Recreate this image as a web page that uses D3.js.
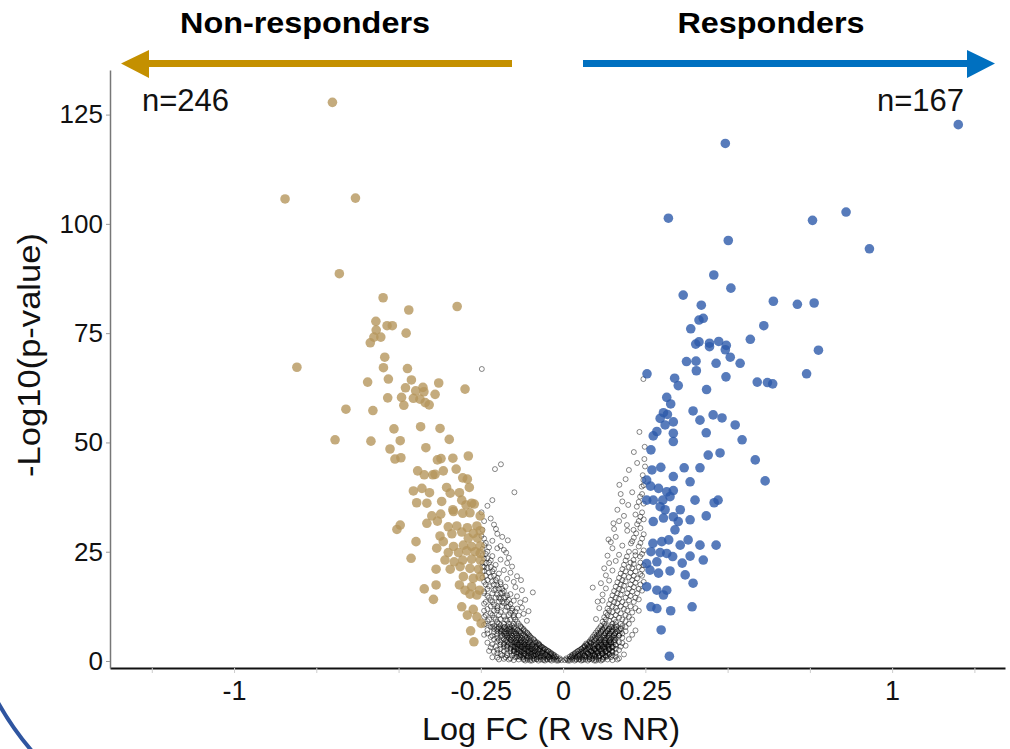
<!DOCTYPE html>
<html>
<head>
<meta charset="utf-8">
<script src="https://cdn.jsdelivr.net/npm/d3@7"></script>
<style>
  body { margin: 0; background: #fff; }
  svg { display: block; }
  text { font-family: "Liberation Sans", Arial, sans-serif; }
</style>
</head>
<body>
<svg id="chart" width="1010" height="749"></svg>
<script>
// non significant genes, [logFC, -log10 p]
const greyLeft = [
  [-0.005,0.2],[-0.02,0.1],[-0.04,0.3],[-0.06,0.2],[-0.08,0.4],[-0.1,0.1],[-0.12,0.3],[-0.15,0.2],[-0.18,0.5],
  [-0.01,0.6],[-0.03,0.7],[-0.05,0.5],[-0.07,0.8],[-0.09,0.6],[-0.11,0.7],[-0.13,0.9],[-0.16,0.6],[-0.2,0.8],
  [-0.02,1.0],[-0.035,1.1],[-0.045,0.9],[-0.06,1.2],[-0.075,1.0],[-0.09,1.3],[-0.105,1.1],[-0.12,1.2],[-0.14,1.0],[-0.17,1.3],
  [-0.03,1.5],[-0.04,1.6],[-0.055,1.4],[-0.07,1.7],[-0.085,1.5],[-0.1,1.8],[-0.115,1.6],[-0.13,1.5],[-0.15,1.7],[-0.19,1.6],
  [-0.04,2.0],[-0.05,2.1],[-0.065,1.9],[-0.08,2.2],[-0.095,2.0],[-0.11,2.3],[-0.125,2.1],[-0.14,2.0],[-0.16,2.2],[-0.21,2.1],
  [-0.05,2.5],[-0.06,2.6],[-0.075,2.4],[-0.09,2.7],[-0.105,2.5],[-0.12,2.8],[-0.135,2.6],[-0.15,2.5],[-0.17,2.7],[-0.2,2.6],
  [-0.06,3.0],[-0.07,3.1],[-0.085,2.9],[-0.1,3.2],[-0.115,3.0],[-0.13,3.3],[-0.145,3.1],[-0.16,3.0],[-0.18,3.2],[-0.22,3.1],
  [-0.07,3.5],[-0.08,3.6],[-0.095,3.4],[-0.11,3.7],[-0.125,3.5],[-0.14,3.8],[-0.155,3.6],[-0.17,3.5],[-0.19,3.7],
  [-0.075,4.0],[-0.09,4.1],[-0.105,3.9],[-0.12,4.2],[-0.135,4.0],[-0.15,4.3],[-0.165,4.1],[-0.18,4.0],[-0.23,4.2],
  [-0.085,4.5],[-0.1,4.6],[-0.115,4.4],[-0.13,4.7],[-0.145,4.5],[-0.16,4.8],[-0.175,4.6],[-0.2,4.5],
  [-0.09,5.0],[-0.105,5.1],[-0.12,4.9],[-0.135,5.2],[-0.15,5.0],[-0.165,5.3],[-0.18,5.1],[-0.21,5.0],
  [-0.1,5.5],[-0.115,5.6],[-0.13,5.4],[-0.145,5.7],[-0.16,5.5],[-0.175,5.8],[-0.19,5.6],[-0.22,5.5],
  [-0.105,6.0],[-0.12,6.1],[-0.135,5.9],[-0.15,6.2],[-0.165,6.0],[-0.18,6.3],[-0.2,6.1],[-0.24,6.0],
  [-0.11,6.5],[-0.13,6.6],[-0.145,6.4],[-0.16,6.7],[-0.175,6.5],[-0.19,6.8],[-0.21,6.6],
  [-0.12,7.0],[-0.14,7.1],[-0.155,6.9],[-0.17,7.2],[-0.185,7.0],[-0.2,7.3],[-0.23,7.1],
  [-0.125,7.5],[-0.15,7.6],[-0.165,7.4],[-0.18,7.7],[-0.195,7.5],[-0.215,7.8],
  [-0.13,8.0],[-0.155,8.1],[-0.17,7.9],[-0.19,8.2],[-0.21,8.0],[-0.24,8.3],
  [-0.14,9.0],[-0.17,9.2],[-0.2,8.9],[-0.23,9.1],[-0.16,9.5],[-0.19,9.6],
  [-0.15,10.0],[-0.18,10.2],[-0.21,9.9],[-0.24,10.1],[-0.135,10.4],
  [-0.16,11.0],[-0.19,11.2],[-0.22,10.9],[-0.145,11.3],[-0.2,11.6],
  [-0.155,12.0],[-0.17,12.3],[-0.2,12.1],[-0.23,11.9],[-0.185,12.6],
  [-0.16,13.0],[-0.18,13.2],[-0.21,12.9],[-0.24,13.1],[-0.195,13.6],
  [-0.165,14.0],[-0.19,14.2],[-0.22,13.9],[-0.175,14.6],[-0.205,14.5],
  [-0.17,15.0],[-0.2,15.2],[-0.23,14.9],[-0.185,15.6],[-0.092,15.7],
  [-0.18,16.0],[-0.21,16.2],[-0.24,15.9],[-0.195,16.6],
  [-0.175,17.0],[-0.2,17.3],[-0.225,17.1],[-0.19,17.6],
  [-0.19,18.0],[-0.215,18.2],[-0.24,18.1],[-0.128,18.5],
  [-0.2,19.0],[-0.22,19.3],[-0.245,19.1],
  [-0.195,20.0],[-0.225,20.2],[-0.24,20.6],
  [-0.21,21.0],[-0.23,21.3],[-0.245,21.6],
  [-0.205,22.0],[-0.235,22.4],[-0.22,23.0],[-0.24,23.4],
  [-0.215,24.0],[-0.245,24.2],[-0.173,24.8],[-0.23,25.0],[-0.245,25.6],
  [-0.225,26.0],[-0.24,26.5],[-0.235,27.0],[-0.168,27.6],[-0.24,28.0],[-0.248,28.6],
  [-0.245,30.0],[-0.24,32.0],[-0.248,34.0],[-0.204,30.2],
  [-0.148,38.6],[-0.207,43.9],[-0.189,45.0],[-0.247,66.8]
];

const greyLeftDense = [
  [-0.012,0.35],[-0.028,0.35],[-0.048,0.35],[-0.068,0.35],[-0.088,0.35],[-0.108,0.35],[-0.135,0.35],[-0.165,0.35],[-0.195,0.35],
  [-0.025,0.85],[-0.042,0.85],[-0.058,0.85],[-0.08,0.85],[-0.1,0.85],[-0.122,0.85],[-0.145,0.85],[-0.175,0.85],[-0.215,0.85],
  [-0.026,1.3],[-0.05,1.3],[-0.065,1.3],[-0.082,1.3],[-0.097,1.3],[-0.112,1.3],[-0.128,1.3],[-0.155,1.3],[-0.185,1.3],
  [-0.036,1.8],[-0.06,1.8],[-0.075,1.8],[-0.09,1.8],[-0.105,1.8],[-0.12,1.8],[-0.135,1.8],[-0.17,1.8],[-0.2,1.8],
  [-0.046,2.3],[-0.07,2.3],[-0.085,2.3],[-0.1,2.3],[-0.118,2.3],[-0.132,2.3],[-0.148,2.3],[-0.18,2.3],[-0.225,2.3],
  [-0.056,2.8],[-0.08,2.8],[-0.095,2.8],[-0.11,2.8],[-0.128,2.8],[-0.142,2.8],[-0.16,2.8],[-0.19,2.8],
  [-0.066,3.3],[-0.09,3.3],[-0.105,3.3],[-0.12,3.3],[-0.138,3.3],[-0.152,3.3],[-0.17,3.3],[-0.205,3.3],
  [-0.072,3.8],[-0.1,3.8],[-0.115,3.8],[-0.13,3.8],[-0.145,3.8],[-0.16,3.8],[-0.18,3.8],[-0.215,3.8],
  [-0.08,4.3],[-0.108,4.3],[-0.125,4.3],[-0.14,4.3],[-0.155,4.3],[-0.17,4.3],[-0.19,4.3],
  [-0.088,4.8],[-0.112,4.8],[-0.128,4.8],[-0.142,4.8],[-0.158,4.8],[-0.172,4.8],[-0.195,4.8],
  [-0.096,5.3],[-0.11,5.3],[-0.125,5.3],[-0.14,5.3],[-0.155,5.3],[-0.17,5.3],[-0.2,5.3],
  [-0.102,5.8],[-0.125,5.8],[-0.14,5.8],[-0.155,5.8],[-0.17,5.8],[-0.185,5.8],[-0.215,5.8],
  [-0.108,6.3],[-0.128,6.3],[-0.142,6.3],[-0.158,6.3],[-0.172,6.3],[-0.19,6.3],[-0.23,6.3],
  [-0.115,6.8],[-0.135,6.8],[-0.15,6.8],[-0.165,6.8],[-0.18,6.8],[-0.2,6.8],
  [-0.12,7.3],[-0.145,7.3],[-0.16,7.3],[-0.175,7.3],[-0.19,7.3],[-0.21,7.3],
  [-0.128,7.8],[-0.148,7.8],[-0.162,7.8],[-0.178,7.8],[-0.195,7.8],[-0.22,7.8],
  [-0.135,8.5],[-0.15,8.5],[-0.165,8.5],[-0.18,8.5],[-0.195,8.5],[-0.215,8.5],[-0.235,8.5],
  [-0.145,9.5],[-0.175,9.5],[-0.205,9.5],[-0.225,9.5],
  [-0.15,10.5],[-0.165,10.5],[-0.195,10.5],[-0.215,10.5],[-0.235,10.5],
  [-0.155,11.5],[-0.175,11.5],[-0.21,11.5],[-0.24,11.5],
  [-0.165,12.5],[-0.2,12.5],[-0.22,12.5],
  [-0.17,13.5],[-0.185,13.5],[-0.215,13.5],[-0.235,13.5],
  [-0.18,14.5],[-0.195,14.5],[-0.225,14.5],
  [-0.19,15.5],[-0.215,15.5],[-0.24,15.5],
  [-0.185,16.5],[-0.205,16.5],[-0.23,16.5],
  [-0.21,17.5],[-0.235,17.5],[-0.205,18.5],[-0.23,18.5],
  [-0.21,19.5],[-0.235,19.5],[-0.215,20.5],[-0.245,20.5],
  [-0.22,21.5],[-0.24,21.5],[-0.225,22.5],[-0.245,22.5],
  [-0.23,23.5],[-0.235,24.5],
  // inner edge of the left arm
  [-0.11,9.2],[-0.12,10.8],[-0.105,11.4],[-0.125,12.2],[-0.13,13.4],[-0.115,14.0],[-0.14,14.8],
  [-0.125,16.2],[-0.145,16.9],[-0.15,18.1],[-0.14,19.4],[-0.16,20.2],[-0.155,21.6],[-0.17,22.4],
  [-0.165,23.6],[-0.18,25.4],[-0.19,26.3],[-0.185,28.4],[-0.2,29.1],[-0.21,31.2],[-0.22,32.6],
  [-0.23,35.5],[-0.215,36.8],[-0.14,12.0],[-0.15,13.8],[-0.16,15.3],[-0.17,18.8],[-0.18,20.8],
  [-0.19,23.2],[-0.2,25.8],[-0.215,27.5]
];

const greyRight = [
  [0.005,0.2],[0.02,0.1],[0.04,0.3],[0.06,0.2],[0.08,0.4],[0.1,0.1],[0.12,0.3],[0.15,0.2],
  [0.01,0.6],[0.03,0.7],[0.05,0.5],[0.07,0.8],[0.09,0.6],[0.11,0.7],[0.13,0.9],[0.17,0.6],
  [0.02,1.0],[0.035,1.1],[0.05,0.9],[0.065,1.2],[0.08,1.0],[0.095,1.3],[0.11,1.1],[0.13,1.2],[0.16,1.0],
  [0.03,1.5],[0.045,1.6],[0.06,1.4],[0.075,1.7],[0.09,1.5],[0.105,1.8],[0.12,1.6],[0.14,1.5],[0.185,1.5],
  [0.04,2.0],[0.055,2.1],[0.07,1.9],[0.085,2.2],[0.1,2.0],[0.115,2.3],[0.13,2.1],[0.15,2.0],
  [0.05,2.5],[0.065,2.6],[0.08,2.4],[0.095,2.7],[0.11,2.5],[0.125,2.8],[0.14,2.6],[0.17,2.5],
  [0.06,3.0],[0.075,3.1],[0.09,2.9],[0.105,3.2],[0.12,3.0],[0.135,3.3],[0.15,3.1],
  [0.065,3.5],[0.08,3.6],[0.095,3.4],[0.11,3.7],[0.125,3.5],[0.14,3.8],[0.16,3.6],[0.19,3.5],
  [0.07,4.0],[0.085,4.1],[0.1,3.9],[0.115,4.2],[0.13,4.0],[0.145,4.3],[0.18,4.1],
  [0.08,4.5],[0.095,4.6],[0.11,4.4],[0.125,4.7],[0.14,4.5],[0.155,4.8],
  [0.085,5.0],[0.1,5.1],[0.115,4.9],[0.13,5.2],[0.145,5.0],[0.16,5.3],[0.2,5.0],
  [0.09,5.5],[0.105,5.6],[0.12,5.4],[0.135,5.7],[0.15,5.5],[0.17,5.8],
  [0.095,6.0],[0.11,6.1],[0.125,5.9],[0.14,6.2],[0.155,6.0],[0.18,6.3],[0.21,6.0],
  [0.1,6.5],[0.115,6.6],[0.13,6.4],[0.145,6.7],[0.16,6.5],
  [0.105,7.0],[0.12,7.1],[0.135,6.9],[0.15,7.2],[0.17,7.0],[0.22,7.0],
  [0.11,7.5],[0.125,7.6],[0.14,7.4],[0.155,7.7],[0.175,7.5],
  [0.115,8.0],[0.13,8.1],[0.145,7.9],[0.16,8.2],[0.18,8.0],
  [0.12,9.0],[0.14,9.2],[0.16,8.9],[0.19,9.1],
  [0.125,10.0],[0.145,10.2],[0.17,9.9],[0.2,10.1],
  [0.13,11.0],[0.15,11.2],[0.175,10.9],[0.21,11.1],
  [0.135,12.0],[0.16,12.2],[0.185,11.9],[0.22,12.1],
  [0.14,13.0],[0.165,13.2],[0.19,12.9],
  [0.145,14.0],[0.17,14.2],[0.2,13.9],[0.23,14.1],
  [0.15,15.0],[0.175,15.2],[0.205,14.9],
  [0.155,16.0],[0.18,16.2],[0.21,15.9],[0.24,16.1],
  [0.16,17.0],[0.185,17.2],[0.215,16.9],[0.09,16.8],
  [0.165,18.0],[0.19,18.2],[0.22,17.9],[0.245,18.1],
  [0.17,19.0],[0.2,19.2],[0.225,18.9],
  [0.175,20.0],[0.205,20.2],[0.235,19.9],
  [0.18,21.0],[0.21,21.2],[0.24,20.9],
  [0.185,22.0],[0.215,22.2],[0.245,21.9],
  [0.19,23.0],[0.214,23.1],[0.234,23.9],
  [0.194,23.9],[0.22,24.2],[0.24,24.5],
  [0.2,25.0],[0.219,25.0],[0.245,25.3],
  [0.206,26.9],[0.23,26.2],[0.21,27.4],[0.235,27.0],[0.138,27.8],
  [0.215,28.2],[0.24,28.0],[0.222,29.2],[0.245,29.0],
  [0.214,30.0],[0.235,30.4],[0.194,31.1],[0.225,31.3],[0.153,31.5],
  [0.23,32.0],[0.245,32.4],[0.235,33.0],[0.22,33.5],[0.24,34.0],
  [0.224,35.3],[0.198,35.7],[0.245,36.0],[0.23,36.4],[0.234,37.6],
  [0.24,38.2],[0.239,39.9],[0.171,40.3],[0.245,40.2],[0.244,41.4],
  [0.242,42.5],[0.249,44.5],[0.247,46.2],[0.248,49.0],[0.244,64.5]
];

const greyRightDense = [
  [0.012,0.35],[0.028,0.35],[0.048,0.35],[0.068,0.35],[0.088,0.35],[0.108,0.35],[0.135,0.35],[0.165,0.35],
  [0.025,0.85],[0.042,0.85],[0.058,0.85],[0.08,0.85],[0.1,0.85],[0.122,0.85],[0.145,0.85],
  [0.026,1.3],[0.05,1.3],[0.065,1.3],[0.082,1.3],[0.097,1.3],[0.112,1.3],[0.128,1.3],[0.15,1.3],
  [0.036,1.8],[0.06,1.8],[0.075,1.8],[0.09,1.8],[0.105,1.8],[0.12,1.8],[0.135,1.8],[0.16,1.8],
  [0.046,2.3],[0.07,2.3],[0.085,2.3],[0.1,2.3],[0.118,2.3],[0.132,2.3],[0.148,2.3],
  [0.056,2.8],[0.08,2.8],[0.095,2.8],[0.11,2.8],[0.128,2.8],[0.142,2.8],[0.16,2.8],
  [0.066,3.3],[0.09,3.3],[0.105,3.3],[0.12,3.3],[0.138,3.3],[0.152,3.3],[0.175,3.3],
  [0.072,3.8],[0.1,3.8],[0.115,3.8],[0.13,3.8],[0.145,3.8],[0.16,3.8],
  [0.08,4.3],[0.108,4.3],[0.125,4.3],[0.14,4.3],[0.155,4.3],[0.17,4.3],
  [0.088,4.8],[0.112,4.8],[0.128,4.8],[0.142,4.8],[0.158,4.8],
  [0.096,5.3],[0.11,5.3],[0.125,5.3],[0.14,5.3],[0.155,5.3],[0.18,5.3],
  [0.102,5.8],[0.125,5.8],[0.14,5.8],[0.155,5.8],[0.17,5.8],
  [0.108,6.3],[0.128,6.3],[0.142,6.3],[0.158,6.3],[0.172,6.3],
  [0.115,6.8],[0.135,6.8],[0.15,6.8],[0.165,6.8],[0.19,6.8],
  [0.12,7.3],[0.14,7.3],[0.16,7.3],[0.175,7.3],
  [0.128,7.8],[0.148,7.8],[0.162,7.8],[0.19,7.8],
  [0.125,8.5],[0.15,8.5],[0.175,8.5],[0.2,8.5],
  [0.13,9.5],[0.155,9.5],[0.18,9.5],[0.21,9.5],
  [0.135,10.5],[0.16,10.5],[0.19,10.5],
  [0.14,11.5],[0.165,11.5],[0.195,11.5],[0.23,11.5],
  [0.15,12.5],[0.175,12.5],[0.205,12.5],
  [0.155,13.5],[0.18,13.5],[0.215,13.5],
  [0.16,14.5],[0.19,14.5],[0.22,14.5],
  [0.165,15.5],[0.195,15.5],[0.225,15.5],
  [0.17,16.5],[0.2,16.5],[0.23,16.5],
  [0.175,17.5],[0.205,17.5],[0.235,17.5],
  [0.18,18.5],[0.21,18.5],[0.185,19.5],[0.215,19.5],[0.24,19.5],
  [0.19,20.5],[0.22,20.5],[0.2,21.5],[0.23,21.5],[0.205,22.5],[0.235,22.5],
  // inner edge of the right arm
  [0.1,9.6],[0.11,12.1],[0.105,13.6],[0.12,15.2],[0.115,17.8],[0.13,19.6],[0.125,21.2],[0.14,22.4],
  [0.135,24.1],[0.15,25.8],[0.145,27.2],[0.16,28.4],[0.155,30.2],[0.17,32.0],[0.165,34.6],[0.18,36.5],
  [0.175,38.2],[0.19,41.6],[0.2,43.7],[0.21,38.6],[0.185,33.2],[0.195,29.8],[0.18,26.4],[0.17,24.3],
  [0.16,22.9],[0.15,20.7],[0.14,18.4],[0.13,16.6],[0.12,13.8],[0.225,45.3],[0.215,47.8],[0.232,52.4]
];

// solid pile of genes around the vertex
const greyVertex = [
  [-0.015,0.1],[-0.035,0.1],[-0.055,0.1],[-0.075,0.1],[-0.095,0.1],[-0.115,0.1],[0.015,0.1],[0.035,0.1],[0.055,0.1],[0.075,0.1],[0.095,0.1],[0.115,0.1],
  [-0.02,0.5],[-0.04,0.5],[-0.06,0.5],[-0.08,0.5],[-0.1,0.5],[-0.12,0.5],[0.02,0.5],[0.04,0.5],[0.06,0.5],[0.08,0.5],[0.1,0.5],[0.12,0.5],
  [-0.028,1.1],[-0.045,1.1],[-0.068,1.1],[-0.088,1.1],[-0.108,1.1],[-0.135,1.1],[0.028,1.1],[0.045,1.1],[0.068,1.1],[0.088,1.1],[0.108,1.1],[0.135,1.1],
  [-0.035,1.6],[-0.052,1.6],[-0.078,1.6],[-0.096,1.6],[-0.118,1.6],[-0.142,1.6],[0.035,1.6],[0.052,1.6],[0.078,1.6],[0.096,1.6],[0.118,1.6],[0.142,1.6],
  [-0.044,2.2],[-0.062,2.2],[-0.088,2.2],[-0.106,2.2],[-0.128,2.2],[-0.15,2.2],[0.044,2.2],[0.062,2.2],[0.088,2.2],[0.106,2.2],[0.128,2.2],[0.15,2.2],
  [-0.055,2.7],[-0.072,2.7],[-0.098,2.7],[-0.116,2.7],[-0.138,2.7],[0.055,2.7],[0.072,2.7],[0.098,2.7],[0.116,2.7],[0.138,2.7],
  [-0.064,3.2],[-0.082,3.2],[-0.108,3.2],[-0.126,3.2],[-0.148,3.2],[0.064,3.2],[0.082,3.2],[0.108,3.2],[0.126,3.2],[0.148,3.2],
  [-0.074,3.7],[-0.094,3.7],[-0.118,3.7],[-0.136,3.7],[0.074,3.7],[0.094,3.7],[0.118,3.7],[0.136,3.7],
  [-0.084,4.2],[-0.104,4.2],[-0.128,4.2],[-0.146,4.2],[0.084,4.2],[0.104,4.2],[0.128,4.2],[0.146,4.2]
];

// higher in non-responders
const nrGenes = [
  [-0.701,127.8],[-0.845,105.7],[-0.631,105.9],[-0.680,88.6],[-0.547,83.1],[-0.469,80.3],[-0.322,81.1],
  [-0.569,77.7],[-0.535,76.7],[-0.519,76.7],[-0.568,75.7],[-0.575,74.1],[-0.554,74.1],[-0.586,72.8],
  [-0.477,75.0],[-0.809,67.2],[-0.542,69.5],[-0.546,67.1],[-0.473,66.9],[-0.531,64.5],[-0.461,64.3],
  [-0.594,63.8],[-0.378,63.6],[-0.298,62.2],[-0.479,62.5],[-0.448,61.8],[-0.426,62.6],[-0.423,61.6],
  [-0.389,61.0],[-0.533,60.2],[-0.491,60.3],[-0.455,60.1],[-0.435,59.9],[-0.419,59.1],[-0.407,58.6],
  [-0.484,58.5],[-0.660,57.6],[-0.578,57.3],[-0.693,50.6],[-0.584,50.3],
  [-0.514,53.1],[-0.433,53.6],[-0.374,53.2],[-0.346,50.7],[-0.495,50.4],[-0.526,48.5],[-0.417,48.8],
  [-0.511,46.2],[-0.493,46.5],[-0.382,46.0],[-0.371,46.3],[-0.335,46.4],[-0.288,46.9],
  [-0.442,43.5],[-0.422,42.6],[-0.396,42.6],[-0.389,42.7],[-0.364,43.5],[-0.325,43.9],[-0.305,41.9],[-0.291,41.6],
  [-0.455,38.9],[-0.429,39.5],[-0.406,38.5],[-0.354,39.7],[-0.343,38.4],[-0.315,38.5],[-0.285,39.7],
  [-0.445,36.2],[-0.414,36.1],[-0.369,36.5],[-0.335,34.6],[-0.308,36.8],[-0.295,35.7],[-0.278,36.1],[-0.270,35.9],
  [-0.399,33.2],[-0.372,33.6],[-0.333,34.2],[-0.305,33.8],[-0.283,33.9],[-0.252,33.2],[-0.414,31.5],
  [-0.382,32.0],[-0.505,30.1],[-0.495,31.1],
  [-0.349,30.7],[-0.323,30.9],[-0.291,30.5],[-0.262,30.9],[-0.252,29.8],[-0.273,29.2],[-0.374,28.6],
  [-0.338,29.1],[-0.308,29.5],[-0.288,28.1],[-0.260,28.1],
  [-0.447,27.3],[-0.364,27.3],[-0.333,26.2],[-0.303,26.5],[-0.278,26.2],[-0.252,26.3],[-0.384,25.8],
  [-0.349,24.8],[-0.318,24.8],[-0.293,25.2],[-0.267,25.0],[-0.252,24.6],
  [-0.462,23.5],[-0.359,23.1],[-0.331,22.7],[-0.305,23.1],[-0.278,23.3],[-0.252,23.1],[-0.386,21.0],
  [-0.343,21.0],[-0.313,21.6],[-0.283,21.2],[-0.257,21.0],
  [-0.303,19.3],[-0.273,18.9],[-0.252,19.3],[-0.315,17.4],[-0.278,17.0],[-0.254,16.2],[-0.386,17.4],
  [-0.422,16.5],[-0.394,14.1],[-0.298,16.2],[-0.283,15.3],[-0.262,15.1],
  [-0.308,12.4],[-0.273,11.8],[-0.291,10.5],[-0.262,10.1],[-0.249,8.6],[-0.281,6.9],[-0.271,4.4]
];

// higher in responders
const rGenes = [
  [1.201,122.7],[0.493,118.4],[0.320,101.3],[0.758,100.8],[0.860,102.7],[0.502,96.2],[0.931,94.3],
  [0.458,88.3],[0.510,85.3],[0.365,83.7],[0.420,81.4],[0.639,82.3],[0.712,81.6],[0.763,81.9],
  [0.426,78.4],[0.413,78.0],[0.388,76.0],[0.610,76.7],[0.569,73.6],
  [0.403,72.5],[0.413,73.0],[0.445,72.7],[0.445,71.9],[0.473,73.1],[0.496,72.2],[0.493,71.2],[0.776,71.1],
  [0.508,69.5],[0.375,68.5],[0.404,68.6],[0.465,68.1],[0.538,68.1],[0.405,66.4],[0.255,65.7],[0.740,65.7],
  [0.339,64.7],[0.350,63.0],[0.495,65.0],[0.590,63.8],[0.621,63.7],[0.637,63.4],[0.436,62.1],[0.315,60.3],
  [0.327,58.8],[0.305,56.8],[0.317,56.4],[0.295,55.5],[0.335,54.7],[0.310,54.0],[0.285,52.5],[0.274,51.5],
  [0.335,52.1],[0.335,50.2],[0.267,48.3],
  [0.270,43.7],[0.297,44.3],[0.335,42.2],[0.254,41.4],[0.266,40.0],[0.290,39.5],[0.315,38.7],[0.335,39.0],
  [0.254,36.8],[0.274,36.8],[0.303,36.8],[0.325,37.6],[0.295,35.3],[0.310,34.6],[0.274,31.9],[0.305,32.7],
  [0.335,33.0],[0.350,31.9],
  [0.273,26.9],[0.300,27.3],[0.321,27.7],[0.267,25.0],[0.295,24.8],[0.315,24.6],[0.333,23.9],[0.285,22.7],
  [0.254,22.3],[0.264,20.8],[0.290,20.1],[0.254,17.0],[0.285,16.2],[0.315,16.2],[0.305,15.1],[0.267,12.4],
  [0.285,12.0],[0.327,11.5],[0.298,7.1],[0.323,1.1],
  [0.395,57.2],[0.416,55.1],[0.435,52.2],[0.456,56.3],[0.483,55.6],[0.523,54.0],[0.544,50.6],[0.584,46.0],
  [0.477,47.6],[0.441,47.1],[0.416,44.2],[0.368,44.2],[0.386,41.0],[0.614,41.2],[0.471,36.8],[0.459,36.2],
  [0.435,33.2],[0.401,36.8],[0.380,27.7],[0.416,26.5],[0.465,26.5],[0.356,26.5],[0.386,24.0],[0.362,22.4],
  [0.325,20.6],[0.395,17.8],[0.371,19.7],[0.392,12.4],[0.426,23.1],[0.386,32.3],[0.356,34.6],[0.340,30.0]
];

const xTicks = [-1.25, -1, -0.75, -0.5, -0.25, 0, 0.25, 0.5, 0.75, 1, 1.25];
const xTickLabels = ["", "-1", "", "", "-0.25", "0", "0.25", "", "", "1", ""];
const yTicks = [0, 25, 50, 75, 100, 125];
const groupNames = ["Non-responders", "Responders"];
const groupCounts = ["n=246", "n=167"];

const svg = d3.select("#chart");

const x = d3.scaleLinear().domain([-1.377, 1.343]).range([110, 1005]);
const y = d3.scaleLinear().domain([-1.6, 135.2]).range([668, 70]);

// slide decoration, bottom left
svg.append("path")
  .attr("d", "M -5 697 A 292 292 0 0 0 40 760")
  .attr("fill", "none")
  .attr("stroke", "#2f55a0")
  .attr("stroke-width", 4);

// points
svg.append("g").selectAll("circle")
  .data(greyLeft.concat(greyLeftDense, greyRight, greyRightDense, greyVertex))
  .join("circle")
    .attr("cx", d => x(d[0]))
    .attr("cy", d => y(d[1]))
    .attr("r", 2.5)
    .attr("fill", "none")
    .attr("stroke", "#000")
    .attr("stroke-opacity", 0.52)
    .attr("stroke-width", 0.9);

svg.append("g").selectAll("circle")
  .data(nrGenes)
  .join("circle")
    .attr("cx", d => x(d[0]))
    .attr("cy", d => y(d[1]))
    .attr("r", 4.8)
    .attr("fill", "#b5965c")
    .attr("fill-opacity", 0.8);

svg.append("g").selectAll("circle")
  .data(rGenes)
  .join("circle")
    .attr("cx", d => x(d[0]))
    .attr("cy", d => y(d[1]))
    .attr("r", 4.8)
    .attr("fill", "#2d5aaa")
    .attr("fill-opacity", 0.8);

// axes
const xAxis = svg.append("g")
  .attr("transform", "translate(0,668)")
  .call(d3.axisBottom(x).tickValues(xTicks).tickSize(5).tickSizeOuter(0).tickPadding(8)
    .tickFormat((d, i) => xTickLabels[i]));
xAxis.select(".domain").attr("stroke", "#111").attr("stroke-width", 2);
xAxis.selectAll(".tick line").attr("stroke", "#ccc");
xAxis.selectAll("text").attr("font-size", 27).attr("fill", "#111")
  .attr("font-family", "Liberation Sans, Arial, sans-serif");

const yAxis = svg.append("g")
  .attr("transform", "translate(110,0)")
  .call(d3.axisLeft(y).tickValues(yTicks).tickSize(4).tickSizeOuter(0).tickPadding(3));
yAxis.select(".domain").attr("stroke", "#777").attr("stroke-width", 1.5);
yAxis.selectAll(".tick line").attr("stroke", "#999");
yAxis.selectAll("text").attr("font-size", 26).attr("fill", "#111")
  .attr("font-family", "Liberation Sans, Arial, sans-serif");

svg.append("text")
  .attr("x", 551).attr("y", 740)
  .attr("text-anchor", "middle")
  .attr("font-size", 31)
  .attr("textLength", 258).attr("lengthAdjust", "spacingAndGlyphs")
  .attr("fill", "#111")
  .text("Log FC (R vs NR)");

svg.append("text")
  .attr("transform", "translate(40,355) rotate(-90)")
  .attr("text-anchor", "middle")
  .attr("font-size", 32)
  .attr("textLength", 244).attr("lengthAdjust", "spacingAndGlyphs")
  .attr("fill", "#111")
  .text("-Log10(p-value)");

// group headers + arrows
svg.append("text")
  .attr("x", 305).attr("y", 33)
  .attr("text-anchor", "middle")
  .attr("font-size", 29).attr("font-weight", "bold")
  .attr("textLength", 250).attr("lengthAdjust", "spacingAndGlyphs")
  .text(groupNames[0]);
svg.append("text")
  .attr("x", 771).attr("y", 33)
  .attr("text-anchor", "middle")
  .attr("font-size", 29).attr("font-weight", "bold")
  .attr("textLength", 187).attr("lengthAdjust", "spacingAndGlyphs")
  .text(groupNames[1]);

svg.append("path")
  .attr("d", "M512 60 H149 V50 L121 63.5 L149 78 V67 H512 Z")
  .attr("fill", "#c49000");
svg.append("path")
  .attr("d", "M583 60 H967 V50 L995 63.5 L967 78 V67 H583 Z")
  .attr("fill", "#0070c0");

svg.append("text")
  .attr("x", 142).attr("y", 111)
  .attr("font-size", 31).attr("fill", "#111")
  .text(groupCounts[0]);
svg.append("text")
  .attr("x", 964).attr("y", 111)
  .attr("text-anchor", "end")
  .attr("font-size", 31).attr("fill", "#111")
  .text(groupCounts[1]);
</script>
</body>
</html>
